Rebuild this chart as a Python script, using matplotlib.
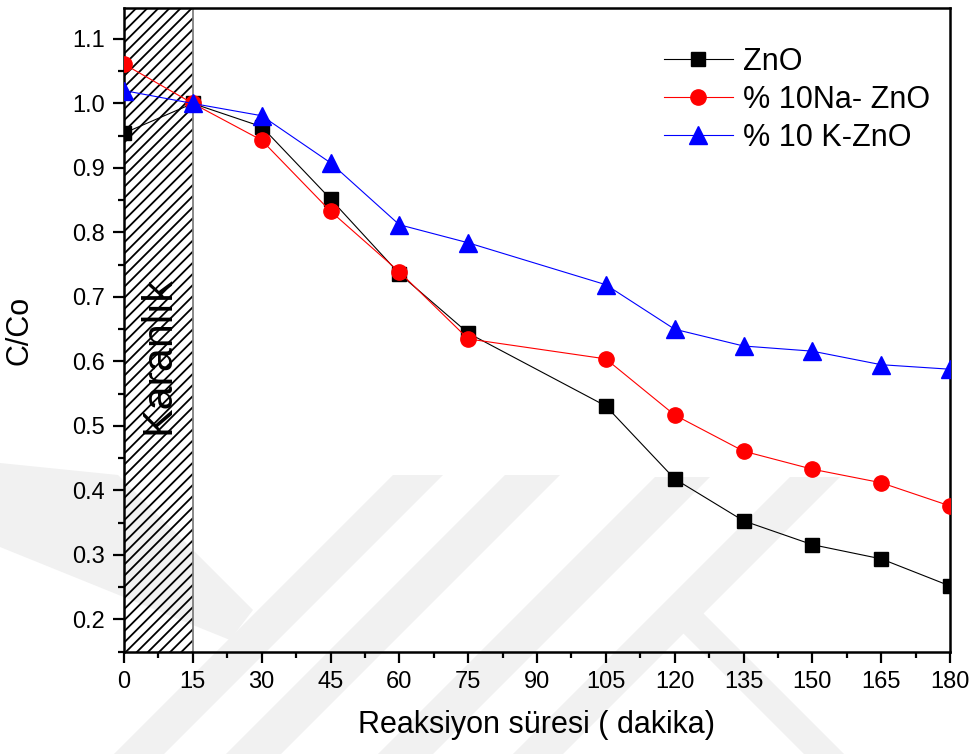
import numpy as np
import matplotlib.pyplot as plt
from matplotlib.patches import Polygon

plt.rcParams['font.family'] = ['Liberation Sans', 'DejaVu Sans']
plt.rcParams['hatch.linewidth'] = 1.3

# reaction time (min) and C/Co for each catalyst
time = [0, 15, 30, 45, 60, 75, 105, 120, 135, 150, 165, 180]
zno = [0.954, 1.0, 0.964, 0.852, 0.736, 0.644, 0.531, 0.418, 0.353, 0.316, 0.294, 0.252]
na_zno = [1.061, 1.0, 0.943, 0.833, 0.739, 0.635, 0.604, 0.517, 0.461, 0.433, 0.412, 0.376]
k_zno = [1.02, 1.0, 0.981, 0.908, 0.812, 0.784, 0.719, 0.650, 0.624, 0.616, 0.595, 0.588]

xticks = list(range(0, 181, 15))
yticks = [0.2, 0.3, 0.4, 0.5, 0.6, 0.7, 0.8, 0.9, 1.0, 1.1]
dark_end = 15

W, H = 977, 754
fig = plt.figure(figsize=(W / 100, H / 100), dpi=100)

# faint background logo (pixel coordinates, y measured from the top)
logo = [
    [(393, 475), (443, 475), (113, 805), (63, 805)],
    [(0, 463), (118, 475), (253, 610), (230, 640), (0, 547)],
    [(505, 475), (560, 475), (275, 760), (220, 760)],
    [(655, 477), (710, 477), (427, 760), (372, 760)],
    [(790, 477), (840, 477), (557, 760), (507, 760)],
    [(660, 610), (700, 610), (850, 760), (810, 760)],
]
for pts in logo:
    fig.patches.append(Polygon([(x / W, 1 - y / H) for x, y in pts], closed=True,
                               transform=fig.transFigure, facecolor='#f1f1f1',
                               edgecolor='none', zorder=-5))

ax = fig.add_axes([124 / W, 1 - 652 / H, 826 / W, 644 / H])
ax.set_facecolor('none')
ax.set_zorder(2)

# dark period
ax.axvspan(0, dark_end, facecolor='none', edgecolor='black', hatch='///', linewidth=0, zorder=1)
ax.axvline(dark_end, color='#808080', lw=1.3, zorder=1)
ax.text(7.5, 0.61, 'Karanlık', rotation=90, ha='center', va='center', fontsize=31, zorder=2)

ax.plot(time, zno, color='black', lw=0.8, marker='s', ms=9.5, label='ZnO', zorder=3)
ax.plot(time, na_zno, color='red', lw=0.8, marker='o', ms=11, label='% 10Na- ZnO', zorder=3)
ax.plot(time, k_zno, color='blue', lw=0.8, marker='^', ms=12.5, label='% 10 K-ZnO', zorder=3)

ax.set_xlim(0, 180)
ax.set_ylim(0.1496, 1.148)
ax.set_xticks(xticks)
ax.set_xticks(np.arange(7.5, 180, 15), minor=True)
ax.set_yticks(yticks)
ax.set_yticks(np.arange(0.15, 1.15, 0.1), minor=True)
ax.set_yticklabels([f'{v:.1f}' for v in yticks])

for s in ax.spines.values():
    s.set_linewidth(1.8)
ax.tick_params(which='major', direction='out', length=8, width=1.6, labelsize=17)
ax.tick_params(which='minor', direction='out', length=4.5, width=1.6)
ax.tick_params(axis='x', pad=6)
ax.tick_params(axis='y', pad=6)

ax.set_xlabel('Reaksiyon süresi ( dakika)', fontsize=22, labelpad=12)
ax.set_ylabel('C/Co', fontsize=22, labelpad=27)

ax.legend(loc='upper left', bbox_to_anchor=(0.6538, 0.940), frameon=False, fontsize=22,
          borderpad=0, borderaxespad=0, handlelength=2.25, handletextpad=0.33,
          labelspacing=0.26)

fig.savefig('out.png', dpi=100)
